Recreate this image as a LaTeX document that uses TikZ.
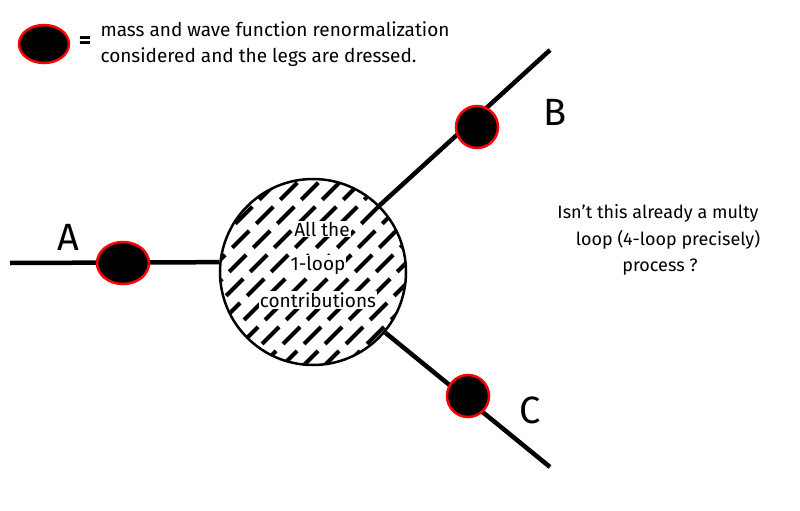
\documentclass[tikz,border=0pt]{standalone}
\usepackage{fontspec}
\setmainfont{Fira Sans}
\usetikzlibrary{shapes.geometric}
\begin{document}
\begin{tikzpicture}[x=1pt,y=-1pt,
  leg/.style={line width=4.5pt,black},
  blob/.style={fill=black,draw=red,line width=2.5pt},
  lab/.style={font=\fontsize{38}{38}\selectfont},
  txt/.style={font=\fontsize{19}{20}\selectfont,anchor=west},
  qtxt/.style={font=\fontsize{18}{20}\selectfont}]
\useasboundingbox (0,0) rectangle (800,511);
% legend
\node[blob,ellipse,minimum width=50pt,minimum height=38pt,inner sep=0] (lg) at (44,44) {};
\node[font=\bfseries\fontsize{24}{24}\selectfont] (eq) at (85,43) {=};
\node[txt] (l1) at (97,29) {mass and wave function renormalization};
\node[txt] (l2) at (97,57) {considered and the legs are dressed.};
% big circle
\coordinate (O) at (313,272);
\begin{scope}
\clip (O) circle (92);
\foreach \i in {-7,...,7}
  \draw[line width=4pt,dash pattern=on 24pt off 10pt,shift={(O)}] ({\i*21-120},120) -- ({\i*21+120},-120);
\end{scope}
\node[circle,draw,line width=2.5pt,minimum size=186pt,inner sep=0] (big) at (O) {};
\node[fill=white,inner sep=1pt,font=\fontsize{19}{19}\selectfont] (t1) at (322,229) {All the};
\node[fill=white,inner sep=1pt,font=\fontsize{19}{19}\selectfont] (t2) at (318,265) {1-loop};
\node[fill=white,inner sep=1pt,font=\fontsize{19}{19}\selectfont] (t3) at (318,300) {contributions};
% legs
\coordinate (a0) at (10,263);
\coordinate (b0) at (550,50);
\coordinate (c0) at (550,467);
\draw[leg] (a0) -- (big.174);
\draw[leg] (big.45) -- (b0);
\draw[leg] (big.-40) -- (c0);
\node[blob,ellipse,minimum width=52pt,minimum height=42pt,inner sep=0] (ba) at (123,263) {};
\node[blob,circle,minimum size=42pt,inner sep=0] (bb) at (477,127) {};
\node[blob,circle,minimum size=42pt,inner sep=0] (bc) at (468,396) {};
\node[lab] (A) at (68,237) {A};
\node[lab] (B) at (555,112) {B};
\node[lab] (C) at (530,410) {C};
% question
\node[qtxt] (q1) at (658,213) {Isn't this already a multy};
\node[qtxt] (q2) at (668,240) {loop (4-loop precisely)};
\node[qtxt] (q3) at (660,267) {process ?};
\end{tikzpicture}
\end{document}
